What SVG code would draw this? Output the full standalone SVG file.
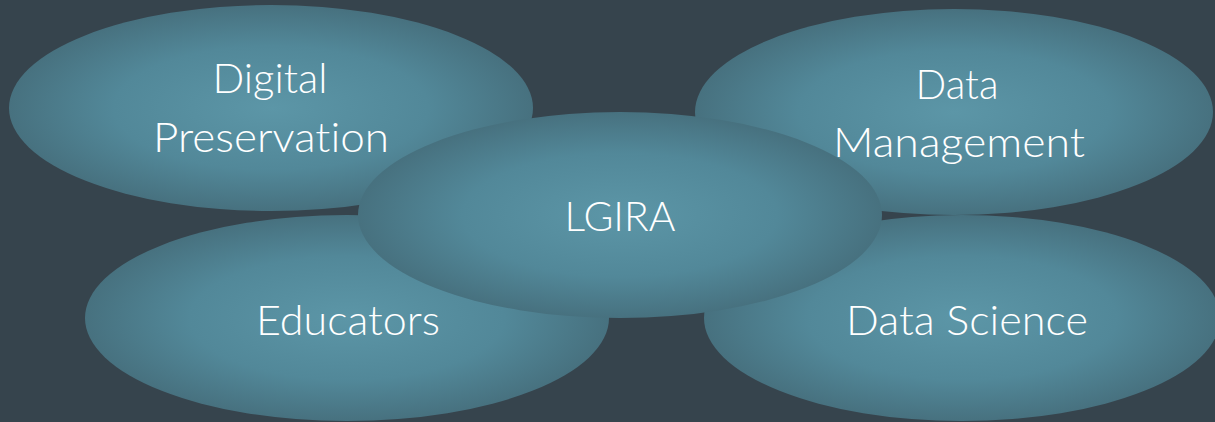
<svg xmlns="http://www.w3.org/2000/svg" width="1215" height="422" viewBox="0 0 1215 422">
  <defs>
    <radialGradient id="blob" cx="50%" cy="50%" r="50%">
      <stop offset="0" stop-color="#5c96a7"/>
      <stop offset="0.6" stop-color="#528899"/>
      <stop offset="1" stop-color="#47717f"/>
    </radialGradient>
  </defs>
  <style>
    .node { fill: url(#blob); }
    .lbl { font-family: Lato, "Open Sans", "Liberation Sans", sans-serif; font-weight: 300; font-size: 42px; fill: #ffffff; text-anchor: middle; font-variant-ligatures: none; font-feature-settings: "liga" 0, "clig" 0; }
  </style>
  <rect x="0" y="0" width="1215" height="422" fill="#36444d"/>
  <g id="connectors"/>
  <g id="node-digital-preservation">
    <ellipse class="node" cx="271" cy="108" rx="262" ry="103"/>
    <text class="lbl" x="270" y="93" textLength="115" lengthAdjust="spacingAndGlyphs">Digital</text>
    <text class="lbl" x="271" y="152" textLength="236" lengthAdjust="spacingAndGlyphs">Preservation</text>
  </g>
  <g id="node-data-management">
    <ellipse class="node" cx="954" cy="112" rx="259" ry="103"/>
    <text class="lbl" x="957" y="99" textLength="83" lengthAdjust="spacingAndGlyphs">Data</text>
    <text class="lbl" x="959" y="157" textLength="252" lengthAdjust="spacingAndGlyphs">Management</text>
  </g>
  <g id="node-educators">
    <ellipse class="node" cx="347" cy="318" rx="262" ry="103"/>
    <text class="lbl" x="348" y="335" textLength="184" lengthAdjust="spacingAndGlyphs">Educators</text>
  </g>
  <g id="node-data-science">
    <ellipse class="node" cx="962" cy="318" rx="258" ry="103"/>
    <text class="lbl" x="967" y="335" textLength="242" lengthAdjust="spacingAndGlyphs">Data Science</text>
  </g>
  <g id="node-lgira">
    <ellipse class="node" cx="620" cy="215" rx="262" ry="103"/>
    <text class="lbl" x="620" y="231" textLength="111" lengthAdjust="spacingAndGlyphs">LGIRA</text>
  </g>
</svg>
